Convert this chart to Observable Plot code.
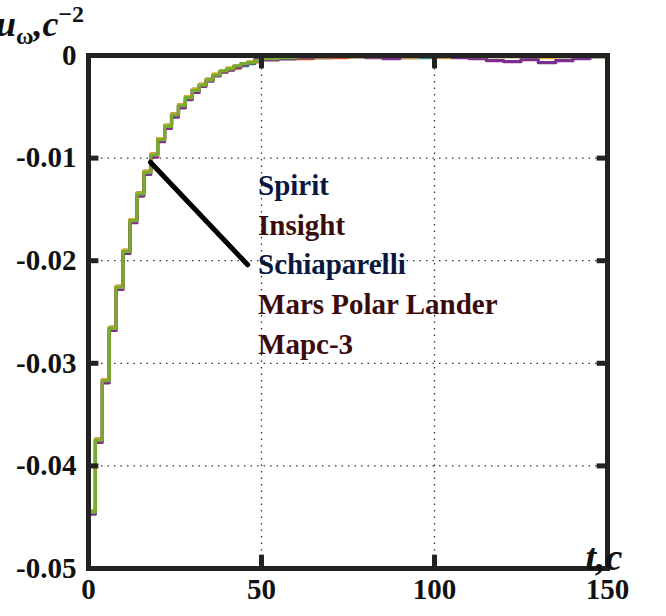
<!DOCTYPE html>
<html>
<head>
<meta charset="utf-8">
<script src="https://cdn.jsdelivr.net/npm/d3@7"></script>
<script src="https://cdn.jsdelivr.net/npm/@observablehq/plot@0.6"></script>
<style>
  body { margin: 0; background: #fff; }
  #chart { position: relative; width: 666px; height: 616px; }
  #chart svg, #chart svg text { font-family: "Liberation Serif", serif !important; }
</style>
</head>
<body>
<div id="chart"></div>
<script>
// time of the steps in the transient part (s)
const headT = d3.range(0, 50, 2)
// u_omega of the transient part
const headGreen = [-0.0445,-0.0375,-0.0317,-0.0266,-0.0226,-0.0191,-0.0161,-0.0135,-0.0114,-0.0097,
  -0.0082,-0.0069,-0.0058,-0.0049,-0.0041,-0.0034,-0.0029,-0.0024,-0.0019,-0.0015,-0.0013,-0.0010,-0.0008,-0.0007,-0.0005]
const headPurple = [-0.0447,-0.0377,-0.0319,-0.0268,-0.0228,-0.0193,-0.0163,-0.0137,-0.0116,-0.0099,
  -0.0084,-0.0071,-0.0060,-0.0051,-0.0043,-0.0036,-0.0030,-0.0025,-0.0020,-0.0016,-0.0014,-0.0011,-0.0009,-0.0007,-0.0004]
const headOrange = [-0.0444,-0.0374,-0.0316,-0.0265,-0.0225,-0.0190,-0.0160,-0.0134,-0.0113,-0.0096,
  -0.0081,-0.0068,-0.0057,-0.0048,-0.0040,-0.0033,-0.0028,-0.0024,-0.0019,-0.0016,-0.0014,-0.0012,-0.0009,-0.0007,-0.0006]
const headBlue = [-0.0444,-0.0374,-0.0316,-0.0265,-0.0225,-0.0190,-0.0160,-0.0134,-0.0113,-0.0096,
  -0.0081,-0.0068,-0.0057,-0.0048,-0.0040,-0.0033,-0.0028,-0.0023,-0.0019,-0.0016,-0.0014,-0.0012,-0.0010,-0.0008,-0.0006]
const headYellow = [-0.0444,-0.0374,-0.0316,-0.0265,-0.0225,-0.0190,-0.0160,-0.0134,-0.0113,-0.0096,
  -0.0081,-0.0068,-0.0057,-0.0048,-0.0040,-0.0033,-0.0028,-0.0023,-0.0018,-0.0015,-0.0012,-0.0010,-0.0008,-0.0006,-0.0005]

// steady part, every 5 s from 50 to 150
const tailT = d3.range(50, 151, 5)
const tailBlue   = [-0.0004,-0.0003,-0.0002,-0.0002,-0.0001, 0.0000,-0.0001, 0.0000,-0.0002,-0.0002,-0.0001, 0.0000, 0.0000,-0.0001, 0.0000,-0.0001, 0.0000,-0.0001, 0.0000,-0.0001, 0.0000]
const tailOrange = [-0.0004,-0.0003,-0.0003,-0.0002,-0.0002,-0.0001,-0.0001, 0.0000,-0.0001, 0.0000,-0.0001, 0.0000,-0.0001, 0.0000, 0.0000,-0.0001, 0.0000, 0.0000,-0.0001, 0.0000,-0.0001]
const tailYellow = [-0.0003,-0.0002,-0.0001,-0.0001, 0.0000,-0.0001, 0.0000,-0.0001,-0.0002,-0.0001,-0.0002,-0.0001, 0.0000,-0.0001,-0.0001, 0.0000,-0.0002,-0.0001, 0.0000,-0.0001, 0.0000]
const tailPurple = [-0.0004,-0.0003,-0.0002,-0.0001, 0.0000,-0.0001,-0.0002,-0.0003,-0.0001, 0.0000,-0.0001,-0.0002,-0.0003,-0.0005,-0.0006,-0.0004,-0.0007,-0.0005,-0.0003,-0.0001,-0.0002]
const tailGreen  = [-0.0003,-0.0002,-0.0001,-0.0001, 0.0000,-0.0001,-0.0001, 0.0000, 0.0000,-0.0001,-0.0001, 0.0000,-0.0001, 0.0000,-0.0001,-0.0001, 0.0000,-0.0001, 0.0000,-0.0001, 0.0000]

const names = ["Spirit", "Insight", "Schiaparelli", "Mars Polar Lander", "Марс-3"]
const colors = ["#0072BD", "#D95319", "#EDB120", "#7E2F8E", "#77AC30"]
const heads = [headBlue, headOrange, headYellow, headPurple, headGreen]
const tails = [tailBlue, tailOrange, tailYellow, tailPurple, tailGreen]
const legendY = [-0.0127, -0.0166, -0.0204, -0.0243, -0.0282]
const legendFill = ["#0a1840", "#3a0c0c", "#0a1840", "#3a0c0c", "#3a0c0c"]

const series = names.map((name, i) => [
  ...headT.map((t, j) => ({t, u: heads[i][j], name})),
  ...tailT.map((t, j) => ({t, u: tails[i][j], name}))
])
const yTicks = [0, -0.01, -0.02, -0.03, -0.04, -0.05]
const xTicks = [0, 50, 100, 150]

const chart = Plot.plot({
  width: 666, height: 616,
  marginLeft: 88, marginRight: 59, marginTop: 55, marginBottom: 48,
  x: {domain: [0, 150], ticks: xTicks, tickSize: 0, tickPadding: 10, tickFormat: d => d, label: null},
  y: {domain: [-0.05, 0], ticks: yTicks, tickSize: 0, tickPadding: 12, tickFormat: d => String(d), label: null},
  style: {fontSize: "29px", fontWeight: "bold", fontFamily: "Liberation Serif, serif", color: "#111"},
  marks: [
    Plot.ruleX([50, 100], {stroke: "#333", strokeDasharray: "1.5,5", strokeWidth: 1.3}),
    Plot.ruleY([-0.01, -0.02, -0.03, -0.04], {stroke: "#333", strokeDasharray: "1.5,5", strokeWidth: 1.3}),
    ...series.map((s, i) => Plot.line(s, {x: "t", y: "u", curve: "step-after", stroke: colors[i], strokeWidth: 3.2})),
    Plot.ruleY([-0.01, -0.02, -0.03, -0.04], {x1: 0, x2: 3, stroke: "#222", strokeWidth: 5}),
    Plot.ruleY([-0.01, -0.02, -0.03, -0.04], {x1: 147, x2: 150, stroke: "#222", strokeWidth: 5}),
    Plot.ruleX([50, 100], {y1: 0, y2: -0.0013, stroke: "#222", strokeWidth: 5}),
    Plot.ruleX([50, 100], {y1: -0.05, y2: -0.0487, stroke: "#222", strokeWidth: 5}),
    Plot.line([[17.9, -0.0104], [46, -0.0204]], {stroke: "#000", strokeWidth: 5}),
    Plot.text(names, {x: 49, y: (d, i) => legendY[i], text: d => d, textAnchor: "start", fill: (d, i) => legendFill[i], fontSize: 29, fontWeight: "bold"}),
    Plot.frame({stroke: "#222", strokeWidth: 5})
  ]
})
d3.select('#chart').append(() => chart)

// axis labels
d3.select(chart).append("text").attr("x", 40).attr("y", 36)
  .attr("font-size", 36).attr("font-style", "italic")
  .html('u<tspan font-size="24" dy="8" font-style="normal">ω</tspan><tspan dy="-8">,c</tspan><tspan font-size="24" dy="-14" font-style="normal">−2</tspan>')
d3.select(chart).append("text").attr("x", 604).attr("y", 570)
  .attr("font-size", 38).attr("font-style", "italic")
  .text("t,c")
</script>
</body>
</html>
